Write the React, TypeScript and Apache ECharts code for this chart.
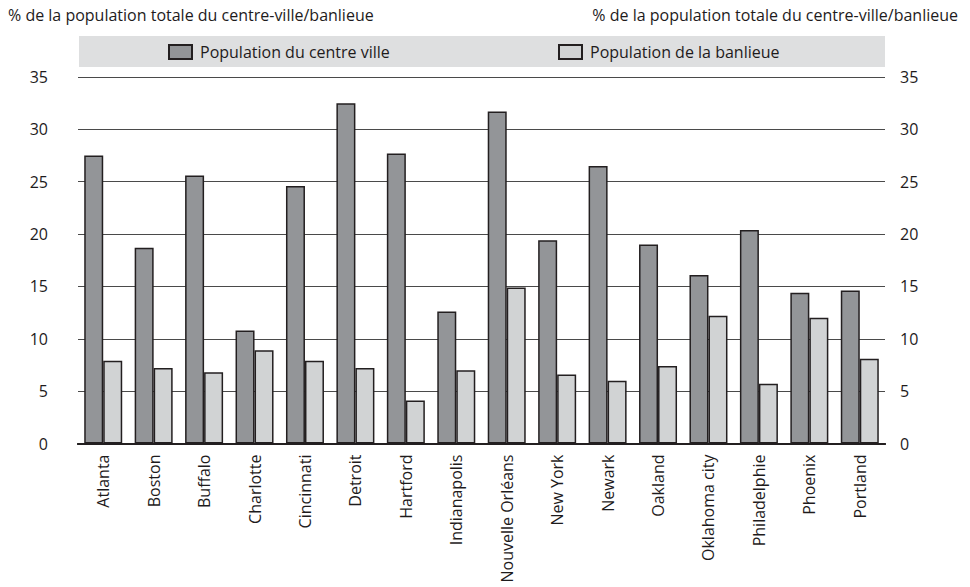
import React, { useEffect, useRef } from "react";
import * as echarts from "echarts";

// Cities along the category axis
const cities = [
  "Atlanta",
  "Boston",
  "Buffalo",
  "Charlotte",
  "Cincinnati",
  "Detroit",
  "Hartford",
  "Indianapolis",
  "Nouvelle Orléans",
  "New York",
  "Newark",
  "Oakland",
  "Oklahoma city",
  "Philadelphie",
  "Phoenix",
  "Portland",
];

// Share (%) of the city-centre population
const centreVille = [27.5, 18.7, 25.6, 10.8, 24.6, 32.5, 27.7, 12.6, 31.7, 19.4, 26.5, 19.0, 16.1, 20.4, 14.4, 14.6];

// Share (%) of the suburban population
const banlieue = [7.9, 7.2, 6.8, 8.9, 7.9, 7.2, 4.1, 7.0, 14.9, 6.6, 6.0, 7.4, 12.2, 5.7, 12.0, 8.1];

const seriesNames = ["Population du centre ville", "Population de la banlieue"];
const axisTitle = "% de la population totale du centre-ville/banlieue";
const yMin = 0;
const yMax = 35;
const yStep = 5;

const FONT = "'Open Sans', 'Liberation Sans', Arial, sans-serif";
const FS = 16;
const TEXT = "#1e1b1c";

export default function App() {
  const ref = useRef<HTMLDivElement>(null);

  useEffect(() => {
    if (!ref.current) return;
    const chart = echarts.init(ref.current, null, { renderer: "svg" });

    const gridLeft = 78;
    const gridRight = 85;

    const legendBase = {
      top: 44,
      padding: 0,
      itemWidth: 23,
      itemHeight: 14,
      icon: "rect",
      textStyle: { fontFamily: FONT, fontSize: FS, color: TEXT, padding: [0, 0, 0, 3] },
    };

    chart.setOption({
      animation: false,
      backgroundColor: "#ffffff",
      textStyle: { fontFamily: FONT, color: TEXT },
      title: [
        {
          text: axisTitle,
          left: 8,
          top: 7,
          padding: 0,
          textStyle: { fontFamily: FONT, fontSize: FS, fontWeight: "normal", color: TEXT },
        },
        {
          text: axisTitle,
          right: 12,
          top: 7,
          padding: 0,
          textStyle: { fontFamily: FONT, fontSize: FS, fontWeight: "normal", color: TEXT },
        },
      ],
      graphic: [
        {
          type: "rect",
          z: -1,
          shape: { x: gridLeft + 1, y: 36, width: 970 - gridRight - gridLeft - 1, height: 31 },
          style: { fill: "#dedfe0" },
        },
      ],
      legend: [
        { ...legendBase, data: [seriesNames[0]], left: 168 },
        { ...legendBase, data: [seriesNames[1]], left: 558 },
      ],
      grid: {
        left: gridLeft,
        right: gridRight,
        top: 77,
        bottom: 143.5,
        outerBoundsMode: "none",
      },
      xAxis: [
        {
          type: "category",
          data: cities,
          position: "bottom",
          axisLine: { show: true, lineStyle: { color: "#231f20", width: 2 } },
          axisTick: { show: false },
          axisLabel: {
            rotate: 90,
            margin: 11,
            interval: 0,
            fontFamily: FONT,
            fontSize: FS,
            color: TEXT,
          },
        },
        {
          type: "category",
          data: cities,
          position: "top",
          axisLine: { show: true, lineStyle: { color: "#231f20", width: 2 } },
          axisTick: { show: false },
          axisLabel: { show: false },
        },
      ],
      yAxis: [
        {
          type: "value",
          min: yMin,
          max: yMax,
          interval: yStep,
          position: "left",
          axisLine: { show: false },
          axisTick: { show: false },
          axisLabel: { margin: 30, fontFamily: FONT, fontSize: FS, color: TEXT },
          splitLine: { show: true, lineStyle: { color: "#4a4a4a", width: 1.2 } },
        },
        {
          type: "value",
          min: yMin,
          max: yMax,
          interval: yStep,
          position: "right",
          axisLine: { show: false },
          axisTick: { show: false },
          axisLabel: { margin: 15, fontFamily: FONT, fontSize: FS, color: TEXT },
          splitLine: { show: false },
        },
      ],
      series: [
        {
          name: seriesNames[0],
          type: "bar",
          data: centreVille,
          barWidth: 19,
          barGap: "0%",
          itemStyle: { color: "#939598", borderColor: "#231f20", borderWidth: 1.5 },
        },
        {
          name: seriesNames[1],
          type: "bar",
          data: banlieue,
          barWidth: 19,
          barGap: "0%",
          itemStyle: { color: "#d1d3d4", borderColor: "#231f20", borderWidth: 1.5 },
        },
      ],
    });

    return () => chart.dispose();
  }, []);

  return (
    <div
      ref={ref}
      style={{ position: "fixed", left: 0, top: 0, width: 970, height: 587 }}
    />
  );
}
